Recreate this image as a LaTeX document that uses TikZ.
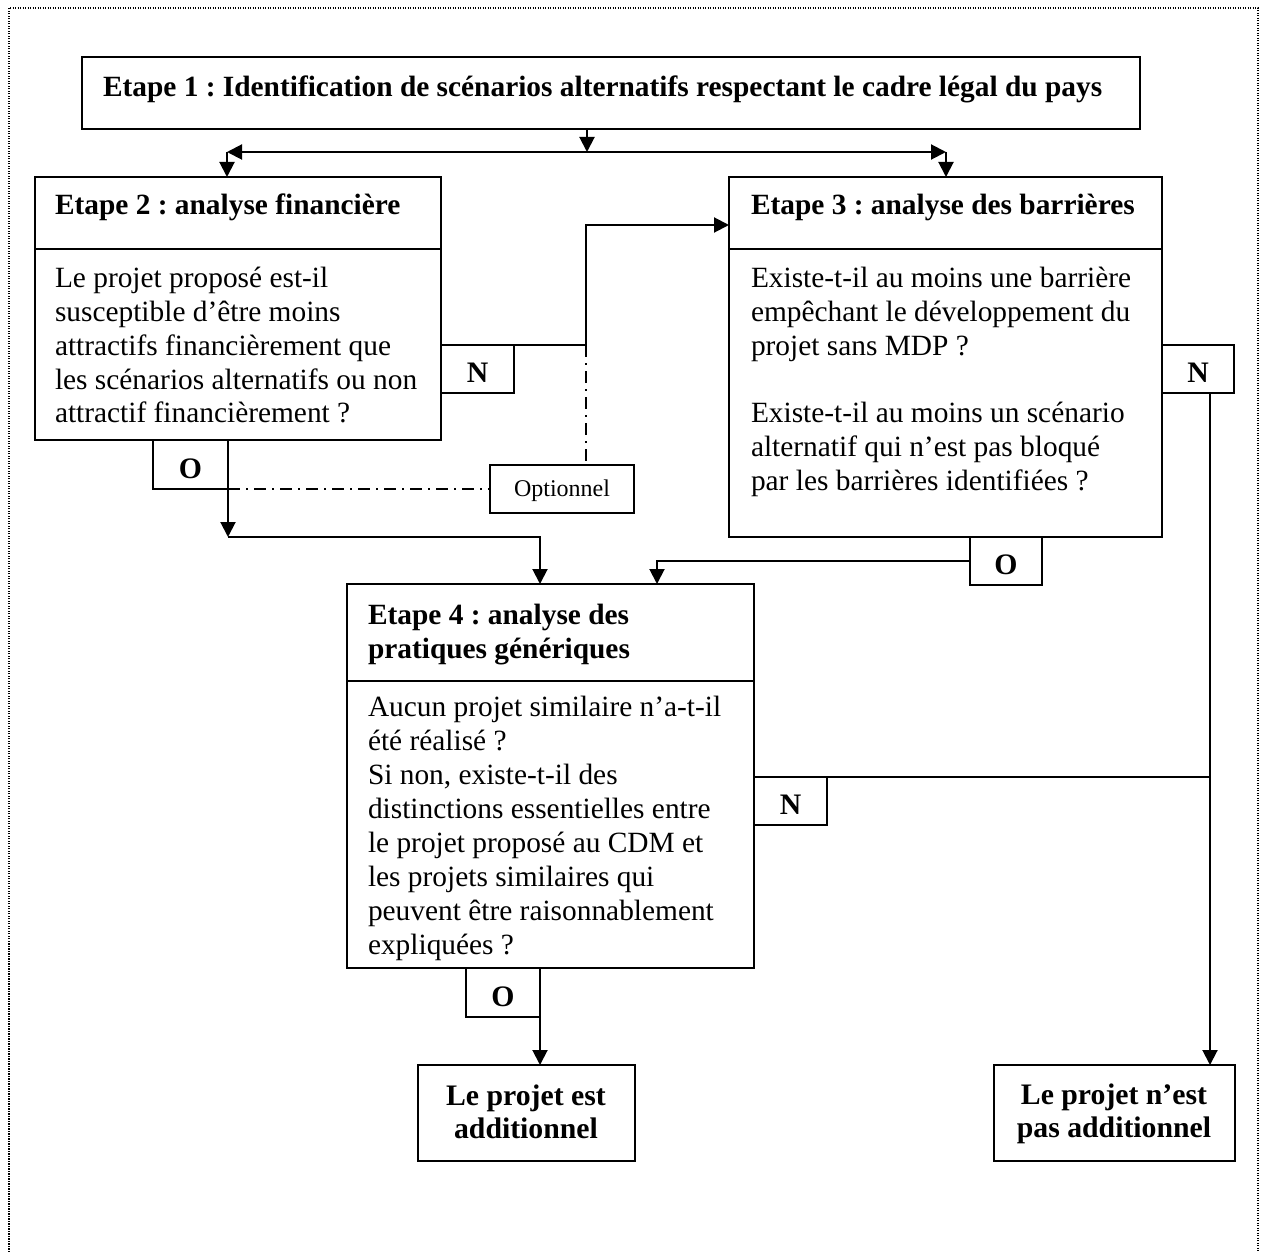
\documentclass[tikz,border=0pt]{standalone}
\usepackage{fontspec}
\setmainfont{Liberation Serif}
\usetikzlibrary{arrows.meta,fit}
\frenchspacing
\begin{document}
\begin{tikzpicture}[x=0.4pt,y=-0.4pt,
  every node/.style={inner sep=0pt, outer sep=0pt},
  frame/.style={draw, line width=0.8pt, inner sep=0pt, outer sep=0pt},
  body/.style={anchor=base west, font=\fontsize{11.75}{13.6}\selectfont},
  head/.style={anchor=base west, font=\fontsize{11.75}{13.6}\selectfont\bfseries},
  res/.style={anchor=base, font=\fontsize{11.9}{13.6}\selectfont\bfseries},
  yn/.style={font=\fontsize{11.9}{13.6}\selectfont\bfseries},
  conn/.style={line width=0.8pt},
  arr/.style={conn, -{Triangle[length=6pt,width=6pt]}},
  dd/.style={line width=0.5pt, dash pattern=on 4.8pt off 2.4pt on 0.8pt off 2.4pt},
]
\useasboundingbox (0,0) rectangle (1261,1252);
% outer dotted frame
\draw[line width=0.5pt, dash pattern=on 0.5pt off 0.5pt] (9,1252) -- (9,8) -- (1258,8) -- (1258,1252);

% boxes
\node[frame, fit={(82,57) (1140,129)}] (e1) {};
\node[frame, fit={(35,177) (441,440)}] (e2) {};
\node[frame, fit={(729,177) (1162,537)}] (e3) {};
\node[frame, fit={(347,584) (754,968)}] (e4) {};
\node[frame, fit={(418,1065) (635,1161)}] (r1) {};
\node[frame, fit={(994,1065) (1235,1161)}] (r2) {};
\draw[conn] (35,249) -- (441,249);
\draw[conn] (729,249) -- (1162,249);
\draw[conn] (347,681) -- (754,681);

% small answer boxes
\node[frame, fit={(441,345) (514,393)}] (n2) {};
\node[frame, fit={(153,440) (228,489)}] (o2) {};
\node[frame, fit={(1162,345) (1234,393)}] (n3) {};
\node[frame, fit={(970,537) (1042,585)}] (o3) {};
\node[frame, fit={(754,777) (827,825)}] (n4) {};
\node[frame, fit={(466,968) (540,1017)}] (o4) {};
\node[frame, line width=0.6pt, fit={(490,465) (634,513)}] (opt) {};

\node[yn, yshift=-1.6pt] (n2l) at (n2.center) {N};
\node[yn, yshift=-1.6pt] (o2l) at (o2.center) {O};
\node[yn, yshift=-1.6pt] (n3l) at (n3.center) {N};
\node[yn, yshift=-1.6pt] (o3l) at (o3.center) {O};
\node[yn, yshift=-1.6pt] (n4l) at (n4.center) {N};
\node[yn, yshift=-1.6pt] (o4l) at (o4.center) {O};
\node[font=\fontsize{9.6}{11}\selectfont, yshift=-0.8pt] (optl) at (opt.center) {Optionnel};

% texts
\node[head] (e1t) at (103,97) {Etape 1 : Identification de scénarios alternatifs respectant le cadre légal du pays};
\node[head] (e2h) at (55,215) {Etape 2 : analyse financière};
\node[head] (e3h) at (751,215) {Etape 3 : analyse des barrières};
\node[head] (e4h1) at (368,624) {Etape 4 : analyse des};
\node[head] (e4h2) at (368,658) {pratiques génériques};

\foreach \txt [count=\i from 0] in {Le projet proposé est-il, susceptible d’être moins, attractifs financièrement que, les scénarios alternatifs ou non, attractif financièrement ?}
  \node[body] (e2t\i) at (55,{287+34*\i}) {\txt};
\foreach \txt [count=\i from 0] in {Existe-t-il au moins une barrière, empêchant le développement du, projet sans MDP ?}
  \node[body] (e3a\i) at (751,{287+34*\i}) {\txt};
\foreach \txt [count=\i from 0] in {Existe-t-il au moins un scénario, alternatif qui n’est pas bloqué, par les barrières identifiées ?}
  \node[body] (e3b\i) at (751,{422+34*\i}) {\txt};
\foreach \txt [count=\i from 0] in {Aucun projet similaire n’a-t-il, été réalisé ?, {Si non, existe-t-il des}, distinctions essentielles entre, le projet proposé au CDM et, les projets similaires qui, peuvent être raisonnablement, expliquées ?}
  \node[body] (e4t\i) at (368,{716+34*\i}) {\txt};

\node[res] (r1a) at (526,1105) {Le projet est};
\node[res] (r1b) at (526,1138) {additionnel};
\node[res] (r2a) at (1114,1104) {Le projet n’est};
\node[res] (r2b) at (1114,1137) {pas additionnel};

% connector points
\coordinate (split) at (587,152);
\coordinate (jl) at (227,152);
\coordinate (jr) at (946,152);
\coordinate (c1) at (586,345);
\coordinate (e3in) at (729,225);
\coordinate (c2) at (228,537);
\coordinate (e4inL) at (540,584);
\coordinate (e4inR) at (657,584);
\coordinate (rv) at (1210,393);

% connectors
\draw[arr] (e1.south -| split) -- (split);
\draw[arr] (split) -- (jl);
\draw[arr] (split) -- (jr);
\draw[arr] (jl) -- (jl |- e2.north);
\draw[arr] (jr) -- (jr |- e3.north);

\draw[conn] (n2.north east) -- (c1);
\draw[arr] (c1) |- (e3in);
\draw[dd] (c1) -- (c1 |- opt.north);
\draw[dd] (o2.south east) -- (opt.west);

\draw[arr] (o2.north east) -- (c2);
\draw[arr] (c2) -| (e4inL);
\draw[arr] (o3.west) -| (e4inR);

\draw[arr] (rv) -- (rv |- r2.north);
\draw[conn] (n4.north east) -- (n4.north east -| rv);
\draw[arr] (o4.north east) -- (o4.north east |- r1.north);
\end{tikzpicture}
\end{document}
